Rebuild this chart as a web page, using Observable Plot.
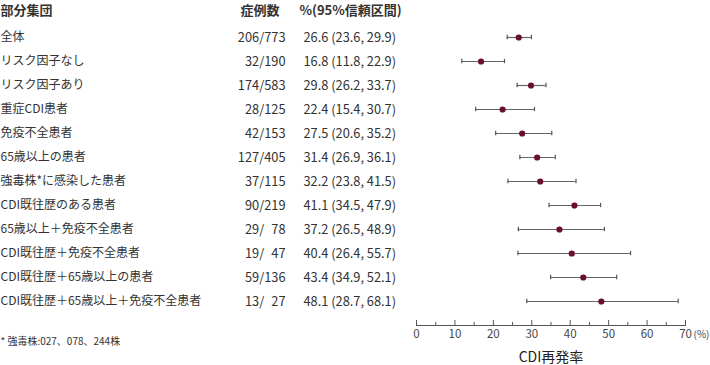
<!DOCTYPE html>
<html>
<head>
<meta charset="utf-8">
<script src="https://cdn.jsdelivr.net/npm/d3@7"></script>
<script src="https://cdn.jsdelivr.net/npm/@observablehq/plot@0.6"></script>
<style>
  html, body { margin: 0; padding: 0; background: #fff; }
  #chart svg { display: block; }
</style>
</head>
<body>
<div id="chart"></div>
<script>
const groups = [
  "全体",
  "リスク因子なし",
  "リスク因子あり",
  "重症CDI患者",
  "免疫不全患者",
  "65歳以上の患者",
  "強毒株*に感染した患者",
  "CDI既往歴のある患者",
  "65歳以上＋免疫不全患者",
  "CDI既往歴＋免疫不全患者",
  "CDI既往歴＋65歳以上の患者",
  "CDI既往歴＋65歳以上＋免疫不全患者"
];
const cases = [206, 32, 174, 28, 42, 127, 37, 90, 29, 19, 59, 13];
const totals = [773, 190, 583, 125, 153, 405, 115, 219, 78, 47, 136, 27];
const estimates = [26.6, 16.8, 29.8, 22.4, 27.5, 31.4, 32.2, 41.1, 37.2, 40.4, 43.4, 48.1];
const lower = [23.6, 11.8, 26.2, 15.4, 20.6, 26.9, 23.8, 34.5, 26.5, 26.4, 34.9, 28.7];
const upper = [29.9, 22.9, 33.7, 30.7, 35.2, 36.1, 41.5, 47.9, 48.9, 55.7, 52.1, 68.1];
const headers = ["部分集団", "症例数", "%(95%信頼区間)"];
const majorTicks = [0, 10, 20, 30, 40, 50, 60, 70];
const minorTicks = [5, 15, 25, 35, 45, 55, 65];
const axisTitle = "CDI再発率";
const unitLabel = "(%)";
const footnote = "* 強毒株:027、078、244株";

const fmt1 = v => v.toFixed(1);
const rows = groups.map((g, i) => ({
  group: g,
  n: `${cases[i]}/${String(totals[i]).padStart(3, "\u2007")}`,
  ci: `${fmt1(estimates[i])} (${fmt1(lower[i])}, ${fmt1(upper[i])})`,
  est: estimates[i],
  lo: lower[i],
  hi: upper[i]
}));

const FONT = "'Noto Sans CJK JP', 'Noto Sans', sans-serif";
const TEXT = "#333";
const marginLeft = 416, marginRight = 25;
const firstRow = 33, lastRow = 305;
const step = (lastRow - firstRow) / (groups.length - 1);
const capInset = step / 2 - 2.5;

const chart = Plot.plot({
  width: 710,
  height: 365,
  marginTop: 0,
  marginBottom: 40,
  marginLeft,
  marginRight,
  style: { fontFamily: FONT, fontSize: "12px", color: TEXT, background: "#fff", overflow: "visible" },
  x: { domain: [0, 70], axis: null },
  y: { type: "band", domain: groups, range: [firstRow - step / 2, lastRow + step / 2], padding: 0, axis: null },
  marks: [
    // header row
    Plot.text([headers[0]], { frameAnchor: "top-left", dx: -marginLeft, dy: 10, textAnchor: "start", lineAnchor: "middle", fontWeight: "bold", fontSize: 13, fill: TEXT }),
    Plot.text([headers[1]], { frameAnchor: "top-left", dx: 279 - marginLeft, dy: 10, textAnchor: "end", lineAnchor: "middle", fontWeight: "bold", fontSize: 13, fill: TEXT }),
    Plot.text([headers[2]], { frameAnchor: "top-left", dx: 299 - marginLeft, dy: 10, textAnchor: "start", lineAnchor: "middle", fontWeight: "bold", fontSize: 13, fill: TEXT }),
    // table columns
    Plot.text(rows, { y: "group", text: "group", frameAnchor: "left", dx: -marginLeft, textAnchor: "start", fill: TEXT, fontSize: 12 }),
    Plot.text(rows, { y: "group", text: "n", frameAnchor: "left", dx: 285 - marginLeft, textAnchor: "end", fill: TEXT, fontSize: 12.8 }),
    Plot.text(rows, { y: "group", text: "ci", frameAnchor: "left", dx: 303 - marginLeft, textAnchor: "start", fill: TEXT, fontSize: 12.8 }),
    // confidence intervals
    Plot.ruleY(rows, { y: "group", x1: "lo", x2: "hi", stroke: "#666", strokeWidth: 1.2 }),
    Plot.tickX(rows, { y: "group", x: "lo", stroke: "#555", strokeWidth: 1.2, insetTop: capInset, insetBottom: capInset }),
    Plot.tickX(rows, { y: "group", x: "hi", stroke: "#555", strokeWidth: 1.2, insetTop: capInset, insetBottom: capInset }),
    Plot.dot(rows, { y: "group", x: "est", r: 3.1, fill: "#6a0d30", stroke: "none" }),
    // axis
    Plot.frame({ anchor: "bottom", stroke: "#555", strokeWidth: 1 }),
    Plot.ruleX(majorTicks, { x: d => d, insetTop: 320, stroke: "#555" }),
    Plot.ruleX(minorTicks, { x: d => d, insetTop: 322, stroke: "#555" }),
    Plot.text(majorTicks, { x: d => d, text: d => String(d), frameAnchor: "bottom", dy: 12, fill: "#444", fontSize: 11.5 }),
    Plot.text([unitLabel], { x: [70], frameAnchor: "bottom", dx: 8, dy: 12, textAnchor: "start", fill: "#444", fontSize: 10 }),
    Plot.text([axisTitle], { x: [35], frameAnchor: "bottom", dy: 36, fill: "#222", fontSize: 14 }),
    // footnote
    Plot.text([footnote], { frameAnchor: "bottom-left", dx: -marginLeft, dy: 19, textAnchor: "start", fill: TEXT, fontSize: 10 })
  ]
});
document.getElementById("chart").append(chart);
</script>
</body>
</html>
